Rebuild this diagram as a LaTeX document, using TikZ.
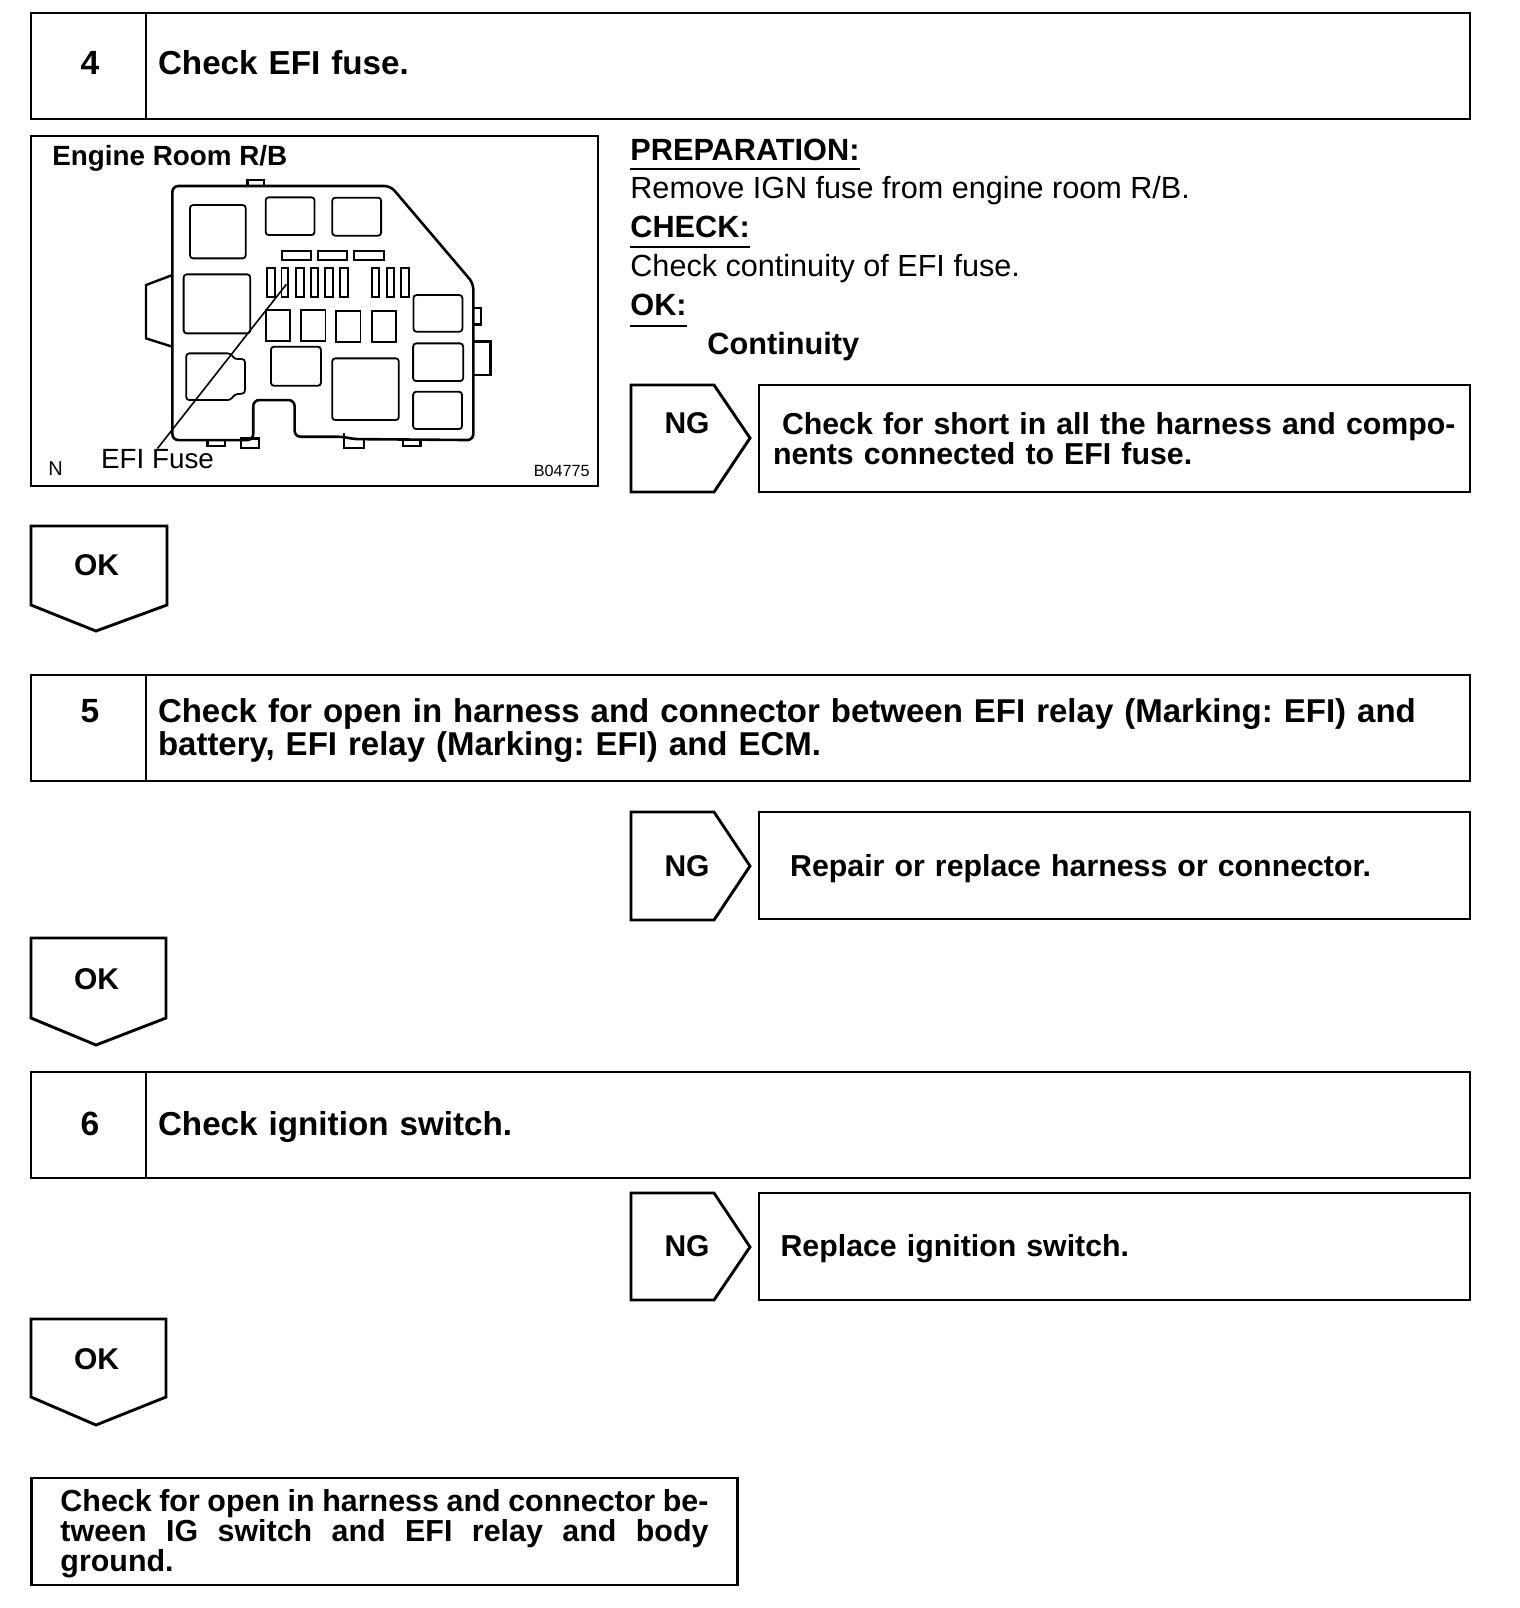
\documentclass[tikz,border=0pt]{standalone}
\usepackage{fontspec}
\setmainfont{Liberation Sans}
\usetikzlibrary{positioning}

\begin{document}
\begin{tikzpicture}[
        x=0.5pt, y=-0.5pt,
        numcell/.style={draw, line width=1.45pt, rectangle, outer sep=0pt, anchor=north west, minimum width=57.5pt, minimum height=53pt, inner sep=0pt},
        numtext/.style={anchor=base, inner sep=0pt, font=\fontsize{16.8}{16.5}\selectfont\bfseries},
        stepcell/.style={draw, line width=1.45pt, rectangle, outer sep=0pt, minimum width=662pt, minimum height=53pt, inner xsep=6pt, inner ysep=0pt, text width=650pt, align=left, font=\frenchspacing\fontsize{16.6}{16.5}\selectfont\bfseries},
        fixbox/.style={draw, line width=1.45pt, rectangle, outer sep=0pt, anchor=north west, minimum width=355.5pt, minimum height=53.5pt, inner xsep=7pt, inner ysep=0pt, text width=341.5pt, align=left, font=\fontsize{15.15}{15}\selectfont\bfseries},
        tagtext/.style={anchor=base, inner sep=0pt, font=\fontsize{15}{15}\selectfont\bfseries},
        tagline/.style={line width=1.45pt, line join=miter},
        headtext/.style={anchor=base west, inner sep=0pt, font=\fontsize{15.35}{15}\selectfont\bfseries},
        bodytext/.style={anchor=base west, inner sep=0pt, font=\fontsize{15.3}{15}\selectfont},
        rulerline/.style={line width=1pt},
        part/.style={line width=0.9pt, rounded corners=1.5pt},
        fusepart/.style={line width=0.9pt}
    ]
    \useasboundingbox (0,0) rectangle (1520,1608);

    % Step 4
    \node[numcell] (cell4) at (31,13) {};
    \node[numtext] (num4) at (90,74) {4};
    \node[stepcell, text depth=3.5pt, right=0pt of cell4] (step4) {Check EFI fuse.};

    % Fuse block picture
    \node[draw, line width=1.45pt, rectangle, outer sep=0pt, anchor=north west, minimum width=283.5pt, minimum height=175pt, inner sep=0pt] (photo) at (31,136) {};
    \node[anchor=base west, inner sep=0pt, font=\fontsize{13.9}{15}\selectfont\bfseries] (room) at (52,165) {Engine Room R/B};
    \node[anchor=base west, inner sep=0pt, font=\fontsize{10}{10}\selectfont] (nmark) at (48,475) {N};
    \node[anchor=base east, inner sep=0pt, font=\fontsize{8.1}{8}\selectfont] (code) at (590,476) {B04775};
    \node[anchor=base, inner sep=0pt, font=\fontsize{13.9}{14}\selectfont] (efifuse) at (157.5,468) {EFI Fuse};

    \begin{scope}[shift={(20,125)}, x=0.1881pt, y=-0.1667pt]
        % housing
        \draw[line width=1.3pt, rounded corners=3pt] (405,240) -- (405,183) -- (985,183) -- (1205,475) -- (1205,945) -- (885,942) -- (860,935) -- (730,935) -- (730,825) -- (620,825) -- (620,945) -- (405,945) -- cycle;
        \draw[line width=1.2pt] (605,183) -- (605,165) -- (648,165) -- (648,183);
        \draw[line width=1.2pt] (405,450) -- (335,480) -- (335,640) -- (405,665);
        \draw[line width=1.2pt] (1205,548) -- (1225,548) -- (1225,598) -- (1205,598);
        \draw[line width=1.3pt] (1205,650) -- (1250,650) -- (1250,750) -- (1205,750);
        \draw[line width=1.2pt] (498,945) -- (498,962) -- (545,962) -- (545,945);
        \draw[line width=1.2pt] (588,940) rectangle (635,968);
        \draw[line width=1.2pt] (862,925) -- (862,968) -- (915,968) -- (915,945);
        \draw[line width=1.2pt] (1018,945) -- (1018,962) -- (1065,962) -- (1065,945);
        % relays
        \draw[part] (452,240) rectangle (600,400);
        \draw[part] (653,217) rectangle (783,330);
        \draw[part] (830,218) rectangle (960,332);
        \draw[part] (435,448) rectangle (612,625);
        \draw[part] (667,665) rectangle (800,782);
        \draw[part] (830,700) rectangle (1007,885);
        \draw[part] (1046,510) rectangle (1176,620);
        \draw[part] (1045,655) rectangle (1178,768);
        \draw[part] (1045,800) rectangle (1175,912);
        \draw[part] (442,685) -- (560,685) -- (570,702) -- (598,702) -- (598,805) -- (570,808) -- (560,825) -- (442,825) -- cycle;
        % fuses
        \draw[fusepart] (697,378) rectangle (773,405);
        \draw[fusepart] (792,378) rectangle (870,405);
        \draw[fusepart] (888,378) rectangle (968,405);
        \draw[fusepart] (657,430) rectangle (677,515);
        \draw[fusepart] (695,430) rectangle (713,515);
        \draw[fusepart] (733,430) rectangle (755,515);
        \draw[fusepart] (773,430) rectangle (793,515);
        \draw[fusepart] (811,430) rectangle (832,515);
        \draw[fusepart] (851,430) rectangle (871,515);
        \draw[fusepart] (936,430) rectangle (955,517);
        \draw[fusepart] (975,430) rectangle (995,515);
        \draw[fusepart] (1012,430) rectangle (1033,515);
        \draw[fusepart] (653,555) rectangle (717,648);
        \draw[fusepart] (747,555) rectangle (812,648);
        \draw[fusepart] (841,558) rectangle (905,650);
        \draw[fusepart] (936,557) rectangle (1000,650);
        \coordinate (fusetip) at (708,478);
    \end{scope}
    \draw[line width=0.8pt] (fusetip) -- (efifuse.north);

    % Inspection text
    \node[headtext] (prep) at (630,160) {PREPARATION:};
    \node[bodytext] (prepbody) at (630,198) {Remove IGN fuse from engine room R/B.};
    \node[headtext] (check) at (630,237) {CHECK:};
    \node[bodytext] (checkbody) at (630,276) {Check continuity of EFI fuse.};
    \node[headtext] (okhead) at (630,315) {OK:};
    \node[headtext] (okbody) at (707,354) {Continuity};
    \draw[rulerline] ([yshift=-4.4pt]prep.base west) -- ([yshift=-4.4pt]prep.base east);
    \draw[rulerline] ([yshift=-5pt]check.base west) -- ([yshift=-5pt]check.base east);
    \draw[rulerline] ([yshift=-5.3pt]okhead.base west) -- ([yshift=-5.3pt]okhead.base east);

    % NG and OK of step 4
    \node[tagtext] (ng4) at (687,433) {NG};
    \draw[tagline] (631,385) -- (714,385) -- (750,438) -- (714,492) -- (631,492) -- cycle;
    \node[fixbox] (fix4) at (759,385) {\hspace*{4.5pt}Check for short in all the harness and compo-\\nents connected to EFI fuse.};
    \node[tagtext] (ok4) at (96.5,575) {OK};
    \draw[tagline] (31,526) -- (167,526) -- (167,605) -- (96,631) -- (31,605) -- cycle;

    % Step 5
    \node[numcell] (cell5) at (31,675) {};
    \node[numtext] (num5) at (90,722) {5};
    \node[stepcell, text height=14.5pt, font=\frenchspacing\fontsize{16.5}{16.5}\selectfont\bfseries, right=0pt of cell5] (step5) {Check for open in harness and connector between EFI relay (Marking: EFI) and\\battery, EFI relay (Marking: EFI) and ECM.};
    \node[tagtext] (ng5) at (687,876) {NG};
    \draw[tagline] (631,812) -- (714,812) -- (750,866) -- (714,920) -- (631,920) -- cycle;
    \node[fixbox, text height=14pt] (fix5) at (759,812) {\hspace*{8.6pt}Repair or replace harness or connector.};
    \node[tagtext] (ok5) at (96.5,989) {OK};
    \draw[tagline] (31,938) -- (166,938) -- (166,1018) -- (96,1045) -- (31,1018) -- cycle;

    % Step 6
    \node[numcell] (cell6) at (31,1072) {};
    \node[numtext] (num6) at (90,1135) {6};
    \node[stepcell, text height=14pt, right=0pt of cell6] (step6) {Check ignition switch.};
    \node[tagtext] (ng6) at (687,1256) {NG};
    \draw[tagline] (631,1193) -- (714,1193) -- (750,1247) -- (714,1300) -- (631,1300) -- cycle;
    \node[fixbox, text height=13pt] (fix6) at (759,1193) {\hspace*{3.8pt}Replace ignition switch.};
    \node[tagtext] (ok6) at (96.5,1369) {OK};
    \draw[tagline] (31,1319) -- (166,1319) -- (166,1397) -- (96,1425) -- (31,1397) -- cycle;

    % Last box
    \node[draw, line width=1.45pt, rectangle, outer sep=0pt, anchor=north west, minimum width=353pt, minimum height=53.5pt, inner xsep=14.5pt, inner ysep=0pt, text width=324pt, text height=13pt, align=left, font=\fontsize{15.2}{15}\selectfont\bfseries] (lastbox) at (31.5,1478) {\spaceskip=0pt\makebox[324pt][s]{Check for open in harness and connector be-}\\\makebox[324pt][s]{tween IG switch and EFI relay and body}\\ground.};
\end{tikzpicture}
\end{document}
